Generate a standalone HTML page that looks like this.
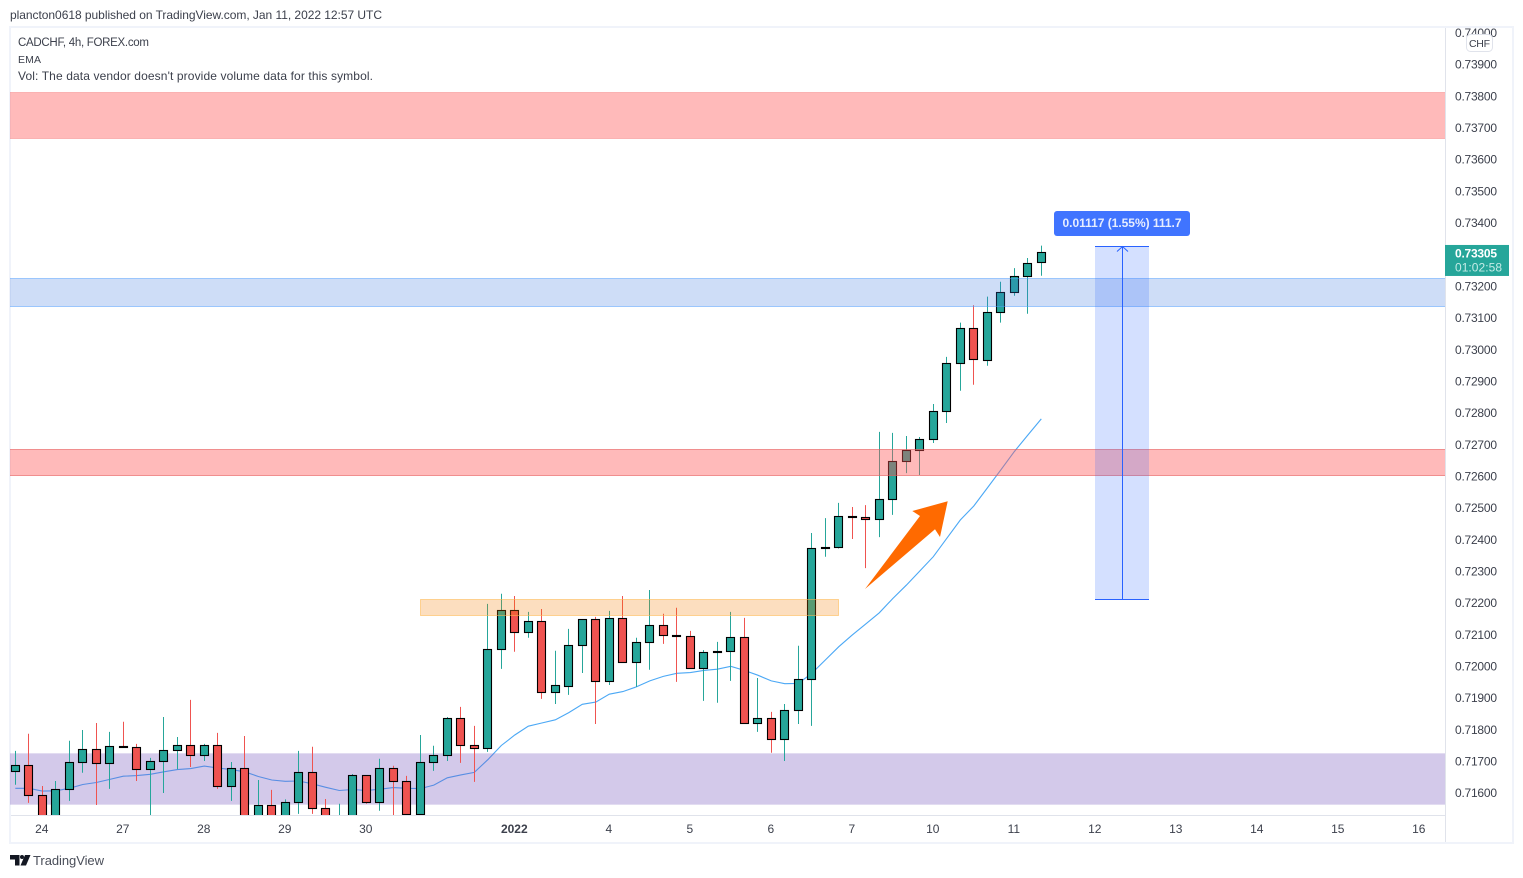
<!DOCTYPE html>
<html lang="en">
<head>
<meta charset="utf-8">
<title>CADCHF 4h chart</title>
<style>
html,body{margin:0;padding:0;background:#fff;width:1523px;height:878px;overflow:hidden}
svg{display:block}
text{font-family:"Liberation Sans",sans-serif;font-size:12px;fill:#3c404c}
</style>
</head>
<body>
<svg id="chart" xmlns="http://www.w3.org/2000/svg" width="1523" height="878" viewBox="0 0 1523 878">
  <defs>
    <clipPath id="plot-clip"><rect x="10" y="28" width="1435" height="787"/></clipPath>
  </defs>
  <rect width="1523" height="878" fill="#ffffff"/>
  <text x="10" y="19" textLength="372" lengthAdjust="spacing">plancton0618 published on TradingView.com, Jan 11, 2022 12:57 UTC</text>
  <rect x="10" y="27" width="1503" height="816" fill="none" stroke="#f0f3fa" stroke-width="2"/>
  <g id="plot" clip-path="url(#plot-clip)"></g>
  <line x1="11" y1="815.5" x2="1445" y2="815.5" stroke="#e0e3eb"/>
  <line x1="1445.5" y1="28" x2="1445.5" y2="842" stroke="#e0e3eb"/>
  <g id="price-axis"></g>
  <g id="time-axis"></g>
  <text x="18" y="46" style="font-size:11.5px" textLength="131" lengthAdjust="spacing">CADCHF, 4h, FOREX.com</text>
  <text x="18" y="63" style="font-size:10.5px" textLength="23" lengthAdjust="spacing">EMA</text>
  <text x="18" y="80" textLength="355" lengthAdjust="spacing">Vol: The data vendor doesn't provide volume data for this symbol.</text>
  <g>
    <rect x="1466.5" y="34.5" width="26" height="17" rx="4" fill="#ffffff" stroke="#e0e3eb"/>
    <text x="1479.5" y="47" text-anchor="middle" style="font-size:10.5px" textLength="21" lengthAdjust="spacing">CHF</text>
  </g>
  <g>
    <path fill="#131722" d="M10 855h9.5v10.5h-4.5v-6h-5zM25 855h5.5l-4.5 10.5h-5.5z"/>
    <circle cx="22" cy="857" r="2" fill="#131722"/>
    <text x="33" y="865" style="font-size:13px;fill:#4a4e59" textLength="71" lengthAdjust="spacing">TradingView</text>
  </g>
</svg>
<script>
// Prices below are in units of 0.00001
const opens = [71668,71688,71593,71500,71611,71696,71738,71693,71747,71745,71674,71699,71734,71751,71718,71751,71620,71678,71500,71561,71500,71570,71666,71552,71470,71500,71656,71570,71678,71637,71532,71696,71718,71836,71751,71740,72053,72177,72107,72142,71917,71939,72066,72149,71952,72152,72012,72075,72130,72097,72095,71993,72045,72047,72092,71819,71836,71769,71860,71958,72372,72375,72474,72470,72463,72526,72646,72681,72716,72804,72956,73065,72966,73117,73180,73231,73272];
const highs = [71733,71787,71622,71638,71765,71799,71821,71793,71825,71755,71711,71840,71777,71894,71755,71790,71698,71780,71641,71610,71580,71733,71746,71581,71566,71660,71656,71708,71686,71654,71783,71749,71840,71872,71812,72197,72229,72222,72172,72181,72049,72118,72149,72156,72175,72222,72090,72241,72166,72185,72112,72051,72077,72172,72153,71963,71856,71881,72065,72421,72468,72516,72503,72509,72740,72737,72727,72724,72828,72977,73085,73140,73167,73214,73257,73289,73328];
const lows = [71626,71569,71480,71480,71575,71664,71562,71613,71744,71638,71490,71600,71675,71682,71701,71613,71575,71490,71480,71490,71490,71534,71534,71490,71450,71490,71566,71544,71500,71500,71525,71670,71701,71695,71635,71730,71992,72046,72090,71897,71881,71910,71979,71818,71941,72012,71935,71989,72071,71951,71993,71891,71885,71954,71819,71793,71727,71701,71818,71812,72346,72372,72402,72310,72408,72478,72610,72604,72705,72768,72870,72889,72949,73085,73170,73113,73233];
const closes = [71688,71592,71500,71612,71697,71738,71693,71748,71745,71674,71700,71735,71751,71718,71751,71620,71678,71500,71561,71500,71571,71666,71551,71500,71520,71656,71570,71678,71636,71532,71697,71719,71836,71750,71740,72054,72177,72107,72142,71917,71940,72067,72149,71952,72152,72012,72076,72130,72097,72095,71993,72045,72047,72092,71819,71836,71769,71861,71959,72372,72376,72474,72470,72464,72527,72647,72682,72717,72805,72957,73065,72966,73118,73181,73232,73273,73305];
const emaValues = [71615,71615,71606,71607,71615,71627,71633,71643,71653,71655,71659,71667,71674,71677,71685,71679,71674,71667,71652,71641,71637,71638,71629,71618,71608,71611,71608,71612,71617,71615,71614,71625,71648,71657,71665,71705,71750,71783,71811,71821,71831,71854,71880,71887,71912,71920,71935,71954,71968,71978,71980,71987,71991,72000,71987,71972,71954,71945,71946,71978,72020,72062,72099,72134,72169,72214,72256,72301,72346,72404,72462,72506,72563,72620,72678,72730,72781];
const priceTicks = [74000,73900,73800,73700,73600,73500,73400,73200,73100,73000,72900,72800,72700,72600,72500,72400,72300,72200,72100,72000,71900,71800,71700,71600];
const timeLabels = ["24","27","28","29","30","2022","4","5","6","7","10","11","12","13","14","15","16"];
const timeLabelBars = [2,8,14,20,26,37,44,50,56,62,68,74,80,86,92,98,104];
const redZoneUpper = [73813,73668];
const blueZone = [73223,73135];
const redZoneLower = [72686,72604];
const purpleZone = [71726,71564];
const orangeZone = [72212,72161];
const measureRange = [72211,73325];
const measureText = "0.01117 (1.55%) 111.7";
const lastCountdown = "01:02:58";

const NS = "http://www.w3.org/2000/svg";
const xScale = i => 15.3 + 13.5 * i;
const yScale = p => 64.5 + (73900 - p) * 0.31674;
const snap = v => Math.floor(v) + 0.5;
const make = (tag, attrs, parent) => {
  const el = document.createElementNS(NS, tag);
  for (const k in attrs) el.setAttribute(k, attrs[k]);
  parent.appendChild(el);
  return el;
};
const plot = document.getElementById("plot");
const priceAxis = document.getElementById("price-axis");
const timeAxis = document.getElementById("time-axis");

function zone(range, x1, x2, fill, stroke) {
  const top = yScale(range[0]);
  const bottom = yScale(range[1]);
  return make("rect", {x: x1 + 0.5, y: snap(top), width: x2 - x1 - 1, height: Math.round(bottom - top), fill: fill, stroke: stroke, "stroke-width": 1}, plot);
}

// EMA line
const emaPath = make("path", {
  d: emaValues.map((v, i) => (i ? "L" : "M") + xScale(i).toFixed(1) + " " + yScale(v).toFixed(1)).join(" "),
  fill: "none", stroke: "#4ba8f5", "stroke-width": 1.1
}, plot);



// Purple zone lies under the candles
const purple = zone(purpleZone, 0, 1446, "rgba(118,87,190,0.32)", "rgba(126,87,194,0.06)");



// Candles
opens.forEach((open, i) => {
  const close = closes[i];
  const up = close >= open;
  const color = up ? "#26a69a" : "#ef5350";
  const cx = snap(xScale(i));
  const group = make("g", {}, plot);
  
  
  const wick = make("line", {x1: cx, x2: cx, y1: yScale(highs[i]), y2: yScale(lows[i]), stroke: color, "stroke-width": 1}, group);
  
  
  const top = yScale(Math.max(open, close));
  const bottom = yScale(Math.min(open, close));
  const body = make("rect", {x: cx - 4, y: snap(top), width: 8, height: Math.max(1, Math.round(bottom - top)), fill: color, stroke: "#000000", "stroke-width": 1.1}, group);
  
  
});

// Zones above the candles
const redUpper = zone(redZoneUpper, 0, 1446, "rgba(255,82,82,0.40)", "rgba(242,100,100,0.35)");


const blue = zone(blueZone, 0, 1446, "rgba(60,120,225,0.25)", "rgba(80,160,255,0.5)");


const redLower = zone(redZoneLower, 0, 1446, "rgba(255,82,82,0.40)", "rgba(230,90,90,0.6)");


const orange = zone(orangeZone, 420, 839, "rgba(245,124,0,0.25)", "rgba(255,183,77,0.55)");



// Arrow annotation
const arrow = make("polygon", {points: "865,589 920,516 912.3,511 947.7,501.3 940,537 935,529.3", fill: "#ff6a00"}, plot);



// Measure tool
const mTop = snap(yScale(measureRange[1]));
const mBottom = snap(yScale(measureRange[0]));
const mBox = make("rect", {x: 1095, y: mTop, width: 54, height: mBottom - mTop, fill: "rgba(41,98,255,0.2)"}, plot);


const mTopLine = make("line", {x1: 1095, x2: 1149, y1: mTop, y2: mTop, stroke: "#2962ff"}, plot);


const mBottomLine = make("line", {x1: 1095, x2: 1149, y1: mBottom, y2: mBottom, stroke: "#2962ff"}, plot);


const mAxis = make("line", {x1: 1122.5, x2: 1122.5, y1: mTop, y2: mBottom, stroke: "#2962ff"}, plot);


const mHead = make("polyline", {points: `1117,${mTop + 5} 1122.5,${mTop} 1128,${mTop + 5}`, fill: "none", stroke: "#2962ff"}, plot);


const mLabelBox = make("rect", {x: 1054, y: 211, width: 136, height: 25, rx: 3, fill: "#4074ff"}, plot);


const mLabel = make("text", {x: 1062.5, y: 227, textLength: 119, lengthAdjust: "spacing", style: "font-weight:bold;fill:#e6edff"}, plot);
mLabel.textContent = measureText;



// Price axis
priceTicks.forEach(v => {
  const t = make("text", {x: 1455, y: yScale(v) + 4.2, textLength: 42, lengthAdjust: "spacing"}, priceAxis);
  t.textContent = (v / 100000).toFixed(5);
  
  
});

// Last price tag
const lastClose = closes[closes.length - 1];
const lastY = yScale(lastClose);
const tag = make("rect", {x: 1445, y: lastY - 8, width: 64, height: 31, fill: "#26a69a"}, priceAxis);


const tagPrice = make("text", {x: 1455, y: lastY + 4.5, textLength: 42, lengthAdjust: "spacing", style: "font-weight:bold;fill:#ffffff"}, priceAxis);
tagPrice.textContent = (lastClose / 100000).toFixed(5);


const tagTime = make("text", {x: 1455, y: lastY + 18.5, textLength: 47, lengthAdjust: "spacing", style: "fill:#c4ebe6"}, priceAxis);
tagTime.textContent = lastCountdown;



// Time axis
timeLabels.forEach((label, i) => {
  const t = make("text", {x: xScale(timeLabelBars[i]) - 0.5, y: 833, "text-anchor": "middle"}, timeAxis);
  if (label === "2022") t.setAttribute("style", "font-weight:bold");
  t.textContent = label;
  
  
});
</script>
</body>
</html>
